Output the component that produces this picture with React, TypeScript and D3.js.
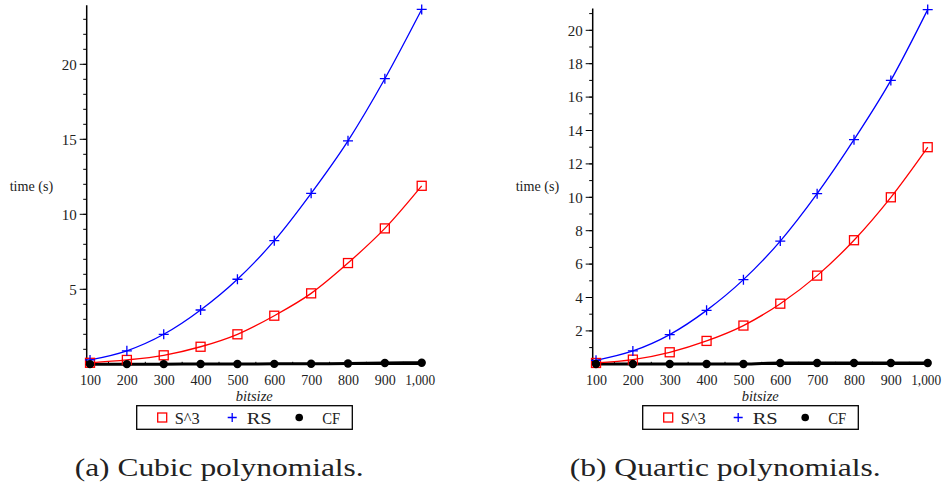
import React from 'react';
import * as d3 from 'd3';

// bitsize values (x)
const bitsizes = [100, 200, 300, 400, 500, 600, 700, 800, 900, 1000];
const xTickLabels = ['100', '200', '300', '400', '500', '600', '700', '800', '900', '1,000'];

// (a) cubic polynomials, time in seconds
const cubicS3 = [0.1, 0.29, 0.6, 1.17, 2.0, 3.24, 4.73, 6.75, 9.06, 11.9];
const cubicRS = [0.29, 0.9, 2.0, 3.62, 5.67, 8.24, 11.4, 14.9, 19.04, 23.66];
const cubicCF = [0.01, 0.01, 0.01, 0.02, 0.02, 0.03, 0.04, 0.05, 0.09, 0.1];
const cubicYTicks = [5, 10, 15, 20];

// (b) quartic polynomials
const quarticS3 = [0.08, 0.28, 0.72, 1.4, 2.32, 3.63, 5.31, 7.43, 10.0, 13.0];
const quarticRS = [0.24, 0.8, 1.78, 3.23, 5.07, 7.38, 10.22, 13.45, 17.0, 21.24];
const quarticCF = [0.02, 0.02, 0.02, 0.02, 0.02, 0.08, 0.08, 0.08, 0.08, 0.08];
const quarticYTicks = [2, 4, 6, 8, 10, 12, 14, 16, 18, 20];

const legendNames = ['S^3', 'RS', 'CF'];
const colors = { s3: '#ff0000', rs: '#0000ff', cf: '#000000' };

const serif = 'Liberation Serif';

const Panel = ({ left, s3, rs, cf, yMax, pxPerUnit, yTicks, caption, captionWidth }) => {
  const y0 = 364.3;
  const x = d3.scaleLinear().domain([91, 1000]).range([left, left + 335]);
  const y = d3.scaleLinear().domain([0, yMax]).range([y0, y0 - pxPerUnit * yMax]);

  const line = d3.line<number>()
    .x((d, i) => x(bitsizes[i]))
    .y((d) => y(d))
    .curve(d3.curveMonotoneX);

  const minorY = d3.range(1, Math.floor(yMax) + 1);
  const minorX = d3.range(150, 1000, 100);
  const cx = (x.range()[0] + x.range()[1]) / 2;
  const legendLeft = cx - 142.5;

  return (
    <g>
      {/* y axis */}
      <line x1={left} x2={left} y1={y(0)} y2={y(yMax)} stroke="#000" strokeWidth={1.5} />
      {minorY.map((v) => (
        <line key={'my' + v} x1={left - 3.5} x2={left} y1={y(v)} y2={y(v)} stroke="#000" strokeWidth={1} />
      ))}
      {yTicks.map((v) => (
        <g key={'y' + v}>
          <line x1={left - 7} x2={left} y1={y(v)} y2={y(v)} stroke="#000" strokeWidth={1} />
          <text x={left - 10} y={y(v)} dy="0.35em" textAnchor="end" fontSize={15} fontFamily={serif} fill="#222">{v}</text>
        </g>
      ))}
      <text x={left - 77} y={185.5} dy="0.35em" fontSize={14.5} fontFamily={serif} fill="#222" textLength={43.5} lengthAdjust="spacingAndGlyphs">time (s)</text>

      {/* x axis */}
      <line x1={left} x2={x(1000) + 2.5} y1={y(0)} y2={y(0)} stroke="#000" strokeWidth={1.5} />
      {minorX.map((v) => (
        <line key={'mx' + v} x1={x(v)} x2={x(v)} y1={y(0)} y2={y(0) - 2.5} stroke="#000" strokeWidth={1} />
      ))}
      {bitsizes.map((v, i) => (
        <g key={'x' + v}>
          <line x1={x(v)} x2={x(v)} y1={y(0)} y2={y(0) - 4} stroke="#000" strokeWidth={1} />
          <text x={xTickLabels[i].length > 3 ? x(v) - 1.5 : x(v) + 0.5} y={385} textAnchor="middle" fontSize={15} fontFamily={serif} fill="#222"
            textLength={xTickLabels[i].length > 3 ? 30 : 21} lengthAdjust="spacingAndGlyphs">{xTickLabels[i]}</text>
        </g>
      ))}
      <text x={cx} y={401} textAnchor="middle" fontSize={14} fontStyle="italic" fontFamily={serif} fill="#222" textLength={37} lengthAdjust="spacingAndGlyphs">bitsize</text>

      {/* series */}
      <path d={line(cf)} fill="none" stroke={colors.cf} strokeWidth={3} />
      <path d={line(s3)} fill="none" stroke={colors.s3} strokeWidth={1.3} />
      <path d={line(rs)} fill="none" stroke={colors.rs} strokeWidth={1.3} />
      {s3.map((d, i) => (
        <rect key={'s' + i} x={x(bitsizes[i]) - 4.5} y={y(d) - 4.5} width={9} height={9} fill="none" stroke={colors.s3} strokeWidth={1.3} />
      ))}
      {rs.map((d, i) => (
        <path key={'r' + i} d={`M${x(bitsizes[i]) - 5},${y(d)}h10M${x(bitsizes[i])},${y(d) - 5}v10`} stroke={colors.rs} strokeWidth={1.3} />
      ))}
      {cf.map((d, i) => (
        <circle key={'c' + i} cx={x(bitsizes[i])} cy={y(d)} r={4.2} fill={colors.cf} />
      ))}

      {/* legend */}
      <rect x={legendLeft + 25} y={405.7} width={215.6} height={23.6} fill="#fff" stroke="#000" strokeWidth={1.3} />
      <rect x={legendLeft + 46} y={413} width={9} height={9} fill="none" stroke={colors.s3} strokeWidth={1.3} />
      <text x={legendLeft + 63} y={424} fontSize={16.5} fontFamily={serif} fill="#222" textLength={25} lengthAdjust="spacingAndGlyphs">{legendNames[0]}</text>
      <path d={`M${legendLeft + 116},417.5h9M${legendLeft + 120.5},413v9`} stroke={colors.rs} strokeWidth={1.3} />
      <text x={legendLeft + 135} y={424} fontSize={16.5} fontFamily={serif} fill="#222" textLength={25} lengthAdjust="spacingAndGlyphs">{legendNames[1]}</text>
      <circle cx={legendLeft + 187.5} cy={417.5} r={3.8} fill={colors.cf} />
      <text x={legendLeft + 210.5} y={424} fontSize={16.5} fontFamily={serif} fill="#222" textLength={18} lengthAdjust="spacingAndGlyphs">{legendNames[2]}</text>

      {/* caption */}
      <text x={cx - 35} y={476} textAnchor="middle" fontSize={25} fontFamily={serif} fill="#222"
        textLength={captionWidth} lengthAdjust="spacingAndGlyphs">{caption}</text>
    </g>
  );
};

export default function App() {
  return (
    <div style={{ position: 'absolute', left: 0, top: 0, background: '#fff' }}>
      <svg width={944} height={484} style={{ display: 'block' }}>
        <rect width={944} height={484} fill="#fff" />
        <Panel left={86.7} s3={cubicS3} rs={cubicRS} cf={cubicCF} yMax={23.93} pxPerUnit={15} yTicks={cubicYTicks}
          caption="(a) Cubic polynomials." captionWidth={289} />
        <Panel left={592.7} s3={quarticS3} rs={quarticRS} cf={quarticCF} yMax={21.3} pxPerUnit={16.7} yTicks={quarticYTicks}
          caption="(b) Quartic polynomials." captionWidth={311} />
      </svg>
    </div>
  );
}
